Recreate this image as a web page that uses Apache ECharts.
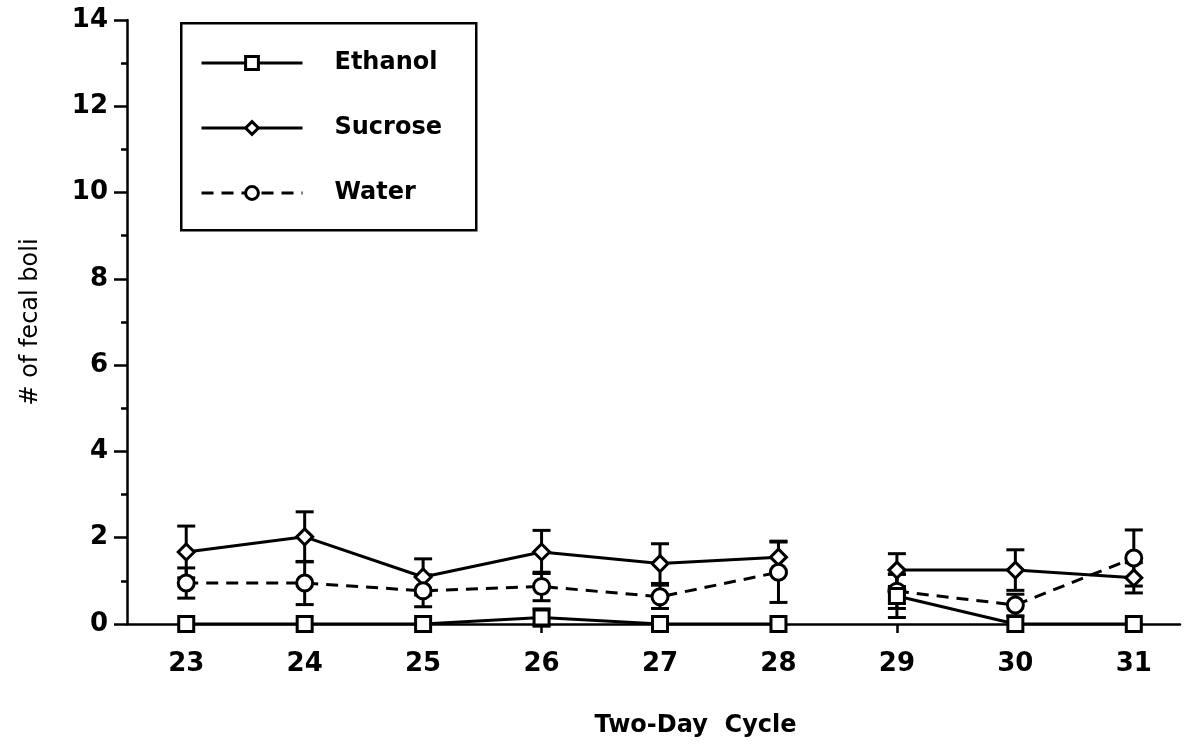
<!DOCTYPE html>
<html>
<head>
<meta charset="utf-8">
<script src="https://cdn.jsdelivr.net/npm/echarts@6/dist/echarts.min.js"></script>
<style>
html,body{margin:0;padding:0;background:#fff;}
#chart{width:1196px;height:745px;}
</style>
</head>
<body>
<div id="chart"></div>
<script>
// ---- data ----
const cycles = [23, 24, 25, 26, 27, 28, 29, 30, 31];
const breakAfter = 28; // lines are not connected between 28 and 29
const ethanolMean = [0, 0, 0, 0.15, 0, 0, 0.65, 0, 0];
const ethanolSE   = [0, 0, 0, 0.2, 0, 0, 0.5, 0, 0];
const sucroseMean = [1.67, 2.02, 1.09, 1.67, 1.4, 1.55, 1.25, 1.25, 1.07];
const sucroseSE   = [0.6, 0.58, 0.42, 0.5, 0.46, 0.37, 0.38, 0.47, 0.35];
const waterMean   = [0.95, 0.95, 0.77, 0.87, 0.63, 1.2, 0.76, 0.44, 1.53];
const waterSE     = [0.35, 0.5, 0.37, 0.33, 0.27, 0.7, 0.4, 0.25, 0.65];
const yTicks = [0, 2, 4, 6, 8, 10, 12, 14];
const seriesNames = ['Ethanol', 'Sucrose', 'Water'];

function lineData(means) {
  const out = [];
  cycles.forEach((c, i) => {
    out.push([c, means[i]]);
    if (c === breakAfter) out.push([c + 0.5, '-']);
  });
  return out;
}
function errData(means, ses) {
  return cycles.map((c, i) => [c, means[i], ses[i]]);
}
function errRender(params, api) {
  const x = api.value(0), y = api.value(1), e = api.value(2);
  if (!e) return null;
  const top = api.coord([x, y + e]);
  const bot = api.coord([x, y - e]);
  const hw = 9;
  const st = { stroke: '#000', lineWidth: 3 };
  return {
    type: 'group',
    children: [
      { type: 'line', shape: { x1: top[0], y1: top[1], x2: bot[0], y2: bot[1] }, style: st },
      { type: 'line', shape: { x1: top[0] - hw, y1: top[1], x2: top[0] + hw, y2: top[1] }, style: st },
      { type: 'line', shape: { x1: bot[0] - hw, y1: bot[1], x2: bot[0] + hw, y2: bot[1] }, style: st }
    ]
  };
}

const FONT = '"DejaVu Sans", "Liberation Sans", Arial, sans-serif';
const chart = echarts.init(document.getElementById('chart'), null, { renderer: 'canvas' });

const markerStyle = { color: '#fff', borderColor: '#000', borderWidth: 3 };

chart.setOption({
  backgroundColor: '#fff',
  animation: false,
  grid: { left: 127, right: 16, top: 20, bottom: 121 },
  graphic: [{
    type: 'rect', left: 180, top: 22, z: 0, silent: true,
    shape: { width: 295, height: 207 },
    style: { fill: '#fff', stroke: '#000', lineWidth: 2.5 }
  }],
  legend: {
    data: seriesNames,
    orient: 'vertical',
    left: 200,
    top: 51,
    z: 10,
    padding: 0,
    itemWidth: 101,
    itemHeight: 16,
    itemGap: 41,
    lineStyle: { width: 3 },
    itemStyle: { borderWidth: 3 },
    textStyle: { fontFamily: FONT, fontWeight: 'bold', fontSize: 24, lineHeight: 24, color: '#000', padding: [0, 0, 0, 27] }
  },
  xAxis: {
    type: 'value',
    min: 22.5,
    max: 31.39,
    name: 'Two-Day  Cycle',
    nameLocation: 'middle',
    nameGap: 90,
    nameTextStyle: { fontFamily: FONT, fontWeight: 'bold', fontSize: 24, color: '#000', padding: [0, 0, 0, 84] },
    splitLine: { show: false },
    axisLine: { lineStyle: { color: '#000', width: 2.5 } },
    axisTick: { show: true, inside: false, length: 9, customValues: cycles, lineStyle: { color: '#000', width: 2.5 } },
    axisLabel: { customValues: cycles, margin: 27, fontFamily: FONT, fontWeight: 'bold', fontSize: 26, color: '#000' }
  },
  yAxis: {
    type: 'value',
    min: 0,
    max: 14,
    interval: 2,
    name: '# of fecal boli',
    nameLocation: 'middle',
    nameGap: 84,
    nameRotate: 90,
    nameTextStyle: { fontFamily: FONT, fontSize: 24, color: '#000' },
    splitLine: { show: false },
    axisLine: { show: true, lineStyle: { color: '#000', width: 2.5 } },
    axisTick: { show: true, inside: false, length: 13, lineStyle: { color: '#000', width: 2.5 } },
    minorTick: { show: true, splitNumber: 2, length: 6, lineStyle: { color: '#000', width: 2.5 } },
    axisLabel: {
      margin: 19, fontFamily: FONT, fontWeight: 'bold', fontSize: 26, color: '#000',
      formatter: v => (yTicks.indexOf(v) >= 0 ? String(v) : '')
    }
  },
  series: [
    { type: 'custom', renderItem: errRender, data: errData(ethanolMean, ethanolSE), z: 1, silent: true },
    { type: 'custom', renderItem: errRender, data: errData(sucroseMean, sucroseSE), z: 1, silent: true },
    { type: 'custom', renderItem: errRender, data: errData(waterMean, waterSE), z: 1, silent: true },
    {
      name: seriesNames[0], type: 'line', data: lineData(ethanolMean), z: 4,
      symbol: 'rect', symbolSize: 15,
      lineStyle: { color: '#000', width: 3 }, itemStyle: markerStyle
    },
    {
      name: seriesNames[1], type: 'line', data: lineData(sucroseMean), z: 3,
      symbol: 'diamond', symbolSize: 16,
      lineStyle: { color: '#000', width: 3 }, itemStyle: markerStyle
    },
    {
      name: seriesNames[2], type: 'line', data: lineData(waterMean), z: 3,
      symbol: 'circle', symbolSize: 16,
      lineStyle: { color: '#000', width: 3, type: [12, 8] }, itemStyle: markerStyle
    }
  ]
});
</script>
</body>
</html>
